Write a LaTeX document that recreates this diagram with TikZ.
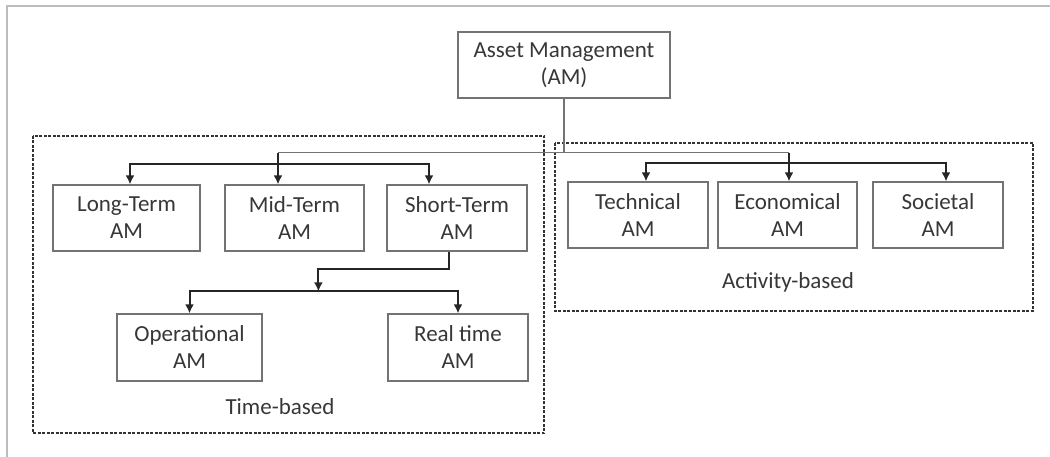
\documentclass[tikz,border=0pt]{standalone}
\usepackage{fontspec}
\setmainfont{Carlito}
\usetikzlibrary{calc,arrows.meta}
\definecolor{boxline}{RGB}{115,115,115}
\definecolor{boxtext}{RGB}{55,55,55}
\definecolor{framegray}{RGB}{190,190,185}
\tikzset{
  amblock/.style={draw=boxline, line width=1.3pt, text=boxtext, align=center, inner sep=0pt,
    minimum height=66pt, font=\fontsize{23}{27}\selectfont},
  feed/.style={draw=black!85, line width=2pt, -{Latex[length=9pt,width=9pt]}},
  trunk/.style={draw=black!55, line width=1.1pt},
  groupbox/.style={draw=black!80, line width=1.4pt, dash pattern=on 3pt off 1.5pt},
  grouplabel/.style={text=boxtext, inner sep=0pt, font=\fontsize{23}{27}\selectfont}
}

\begin{document}
\begin{tikzpicture}[x=1pt,y=-1pt]
\useasboundingbox (0,0) rectangle (1050,457);
\draw[framegray, line width=2pt] (7,457) -- (7,6) -- (1050,6);

% top
\node[amblock, minimum width=212pt] (am) at (564,65) {Asset Management\\(AM)};

% time-based group
\draw[groupbox] (33,136) rectangle (544,433);
\node[amblock, minimum width=147pt] (long) at (126.5,218) {Long-Term\\AM};
\node[amblock, minimum width=139pt] (mid) at (294.5,218) {Mid-Term\\AM};
\node[amblock, minimum width=140pt] (short) at (457,218) {Short-Term\\AM};
\node[amblock, minimum width=145pt, minimum height=67pt] (op) at (189.5,347.5) {Operational\\AM};
\node[amblock, minimum width=140pt, minimum height=67pt] (rt) at (458,347.5) {Real time\\AM};
\node[grouplabel] (timelbl) at (280,407) {Time-based};

% activity-based group
\draw[groupbox] (555,143) rectangle (1033,311);
\node[amblock, minimum width=140pt] (tech) at (638,215) {Technical\\AM};
\node[amblock, minimum width=139pt] (econ) at (787.5,215) {Economical\\AM};
\node[amblock, minimum width=130pt] (soc) at (938,215) {Societal\\AM};
\node[grouplabel] (actlbl) at (788,282) {Activity-based};

% connectors
\coordinate (split) at ($(am.south)+(0,54)$);
\coordinate (midin) at ($(mid.north)+(-16.5,0)$);
\coordinate (econin) at ($(econ.north)+(1.5,0)$);
\draw[trunk] (am.south) -- (split);
\draw[trunk] (midin |- split) -- (econin |- split);
\draw[feed] (midin |- split) -- (midin);
\draw[feed] (econin |- split) -- (econin);

\coordinate (tbus) at ($(midin)+(0,-20)$);
\draw[feed] (tbus) -| ($(long.north)+(3.5,0)$);
\draw[feed] (tbus) -| ($(short.north)+(-28,0)$);

\coordinate (abus) at ($(econin)+(0,-18)$);
\draw[feed] (abus) -| ($(tech.north)+(8,0)$);
\draw[feed] (abus) -| ($(soc.north)+(8,0)$);

\coordinate (shortout) at ($(short.south)+(-8,0)$);
\coordinate (ojoin) at ($(op.north)!0.48!(rt.north)+(0,-22)$);
\draw[feed] (shortout) -- ++(0,17) -| (ojoin);
\draw[feed] (ojoin) -| (op.north);
\draw[feed] (ojoin) -| (rt.north);
\end{tikzpicture}
\end{document}
